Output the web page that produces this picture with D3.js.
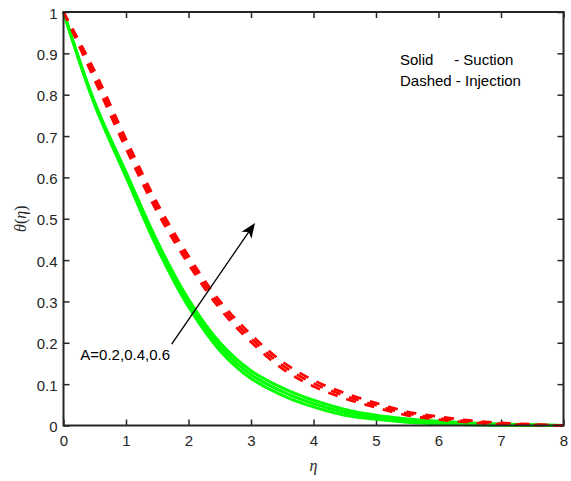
<!DOCTYPE html>
<html>
<head>
<meta charset="utf-8">
<script src="https://cdn.jsdelivr.net/npm/d3@7"></script>
<style>
  html, body { margin: 0; padding: 0; background: #fff; }
  svg { display: block; }
  text { font-family: "Liberation Sans", Arial, sans-serif; }
</style>
</head>
<body>
<svg id="chart" width="571" height="481"></svg>
<script>
// ---- data ----
const eta = [0, 0.5, 1, 1.5, 2, 2.5, 3, 3.5, 4, 4.5, 5, 5.5, 6, 6.5, 7, 7.5, 8];

// Suction (solid green), A = 0.2, 0.4, 0.6
const suctionA02 = [1, 0.775, 0.601, 0.429, 0.287, 0.1815, 0.1135, 0.073, 0.045, 0.025, 0.015, 0.008, 0.004, 0.002, 0.0005, 0, 0];
const suctionA04 = [1, 0.778, 0.607, 0.437, 0.296, 0.191, 0.123, 0.082, 0.053, 0.032, 0.020, 0.012, 0.007, 0.004, 0.002, 0.001, 0];
const suctionA06 = [1, 0.781, 0.613, 0.445, 0.305, 0.2005, 0.1325, 0.091, 0.061, 0.039, 0.025, 0.016, 0.010, 0.006, 0.0035, 0.002, 0];

// Injection (dashed red), A = 0.2, 0.4, 0.6
const injectionA02 = [1, 0.835, 0.669, 0.516, 0.390, 0.2825, 0.202, 0.1375, 0.0945, 0.0655, 0.0435, 0.0245, 0.0145, 0.0073, 0.0029, 0.001, 0];
const injectionA04 = [1, 0.846, 0.681, 0.527, 0.400, 0.292, 0.211, 0.146, 0.102, 0.072, 0.049, 0.029, 0.018, 0.0098, 0.0047, 0.002, 0];
const injectionA06 = [1, 0.857, 0.693, 0.538, 0.410, 0.3015, 0.220, 0.1545, 0.1095, 0.0785, 0.0545, 0.0335, 0.0215, 0.0123, 0.0065, 0.003, 0];

const xTicks = [0, 1, 2, 3, 4, 5, 6, 7, 8];
const yTicks = [0, 0.1, 0.2, 0.3, 0.4, 0.5, 0.6, 0.7, 0.8, 0.9, 1];

const legendLines = ["Solid     - Suction", "Dashed - Injection"];
const arrowLabel = "A=0.2,0.4,0.6";
const arrowStart = [1.731, 0.197];
const arrowEnd = [3.064, 0.490];

// ---- layout ----
const svg = d3.select("#chart");
const mLeft = 63.5, mRight = 563.5, mTop = 12, mBottom = 425.5;
const x = d3.scaleLinear().domain([0, 8]).range([mLeft, mRight]);
const y = d3.scaleLinear().domain([0, 1]).range([mBottom, mTop]);
const axisColor = "#262626";

// ---- axes ----
const gx = svg.append("g").attr("transform", `translate(0,${mBottom})`)
  .call(d3.axisBottom(x).tickValues(xTicks).tickFormat(d3.format("d"))
    .tickSizeInner(-6).tickSizeOuter(0).tickPadding(10));
const gxt = svg.append("g").attr("transform", `translate(0,${mTop})`)
  .call(d3.axisTop(x).tickValues(xTicks).tickFormat("")
    .tickSizeInner(-6).tickSizeOuter(0));
const gy = svg.append("g").attr("transform", `translate(${mLeft},0)`)
  .call(d3.axisLeft(y).tickValues(yTicks).tickFormat(d => d3.format("~g")(d))
    .tickSizeInner(-6).tickSizeOuter(0).tickPadding(6));
const gyr = svg.append("g").attr("transform", `translate(${mRight},0)`)
  .call(d3.axisRight(y).tickValues(yTicks).tickFormat("")
    .tickSizeInner(-6).tickSizeOuter(0));

[gx, gxt, gy, gyr].forEach(g => {
  g.select(".domain").remove();
  g.selectAll(".tick line").attr("stroke", axisColor).attr("stroke-width", 1.5);
  g.selectAll(".tick text").attr("fill", axisColor)
    .style("font-size", "15px").style("font-family", "'Liberation Sans', Arial, sans-serif");
});
gy.selectAll(".tick text").attr("dy", "0.4em");

// ---- curves ----
const line = d3.line().x((d, i) => x(eta[i])).y(d => y(d)).curve(d3.curveCatmullRom.alpha(0.5));
const plot = svg.append("g");

[suctionA02, suctionA04, suctionA06].forEach(s => {
  plot.append("path").attr("d", line(s))
    .attr("fill", "none").attr("stroke", "#00ff00").attr("stroke-width", 3);
});
[injectionA02, injectionA04, injectionA06].forEach(s => {
  plot.append("path").attr("d", line(s))
    .attr("fill", "none").attr("stroke", "#ff0000").attr("stroke-width", 2.6)
    .attr("stroke-dasharray", "10,9");
});

// ---- box ----
svg.append("rect").attr("x", mLeft).attr("y", mTop)
  .attr("width", mRight - mLeft).attr("height", mBottom - mTop)
  .attr("fill", "none").attr("stroke", axisColor).attr("stroke-width", 2);

// ---- axis labels ----
svg.append("text")
  .attr("transform", `translate(22,${(mTop + mBottom) / 2}) rotate(-90)`)
  .attr("text-anchor", "middle").attr("dominant-baseline", "middle")
  .style("font-family", "'Liberation Serif', 'Times New Roman', serif")
  .style("font-size", "16px").attr("fill", axisColor)
  .html('<tspan font-style="italic">θ</tspan>(<tspan font-style="italic">η</tspan>)');

svg.append("text")
  .attr("x", (mLeft + mRight) / 2).attr("y", 471)
  .attr("text-anchor", "middle")
  .style("font-family", "'Liberation Serif', 'Times New Roman', serif")
  .style("font-size", "16px").style("font-style", "italic").attr("fill", axisColor)
  .text("η");

// ---- legend text ----
svg.selectAll(".legend").data(legendLines).enter().append("text")
  .attr("class", "legend")
  .attr("x", 400).attr("y", (d, i) => 65 + i * 21)
  .style("font-size", "15px").style("white-space", "pre")
  .attr("fill", "#000")
  .text(d => d);

// ---- arrow annotation ----
const ax0 = x(arrowStart[0]), ay0 = y(arrowStart[1]);
const ax1 = x(arrowEnd[0]), ay1 = y(arrowEnd[1]);
const len = Math.hypot(ax1 - ax0, ay1 - ay0);
const ux = (ax1 - ax0) / len, uy = (ay1 - ay0) / len;
const nx = -uy, ny = ux;
const L = 15, W = 6, notch = 4;
svg.append("line")
  .attr("x1", ax0).attr("y1", ay0)
  .attr("x2", ax1 - ux * (L - notch)).attr("y2", ay1 - uy * (L - notch))
  .attr("stroke", "#000").attr("stroke-width", 1.3);
svg.append("path")
  .attr("d", d3.line()([
    [ax1, ay1],
    [ax1 - ux * L + nx * W, ay1 - uy * L + ny * W],
    [ax1 - ux * (L - notch), ay1 - uy * (L - notch)],
    [ax1 - ux * L - nx * W, ay1 - uy * L - ny * W]
  ]) + "Z")
  .attr("fill", "#000");

svg.append("text")
  .attr("x", 170).attr("y", 359.5)
  .attr("text-anchor", "end")
  .style("font-size", "15px").attr("fill", "#000")
  .text(arrowLabel);
</script>
</body>
</html>
